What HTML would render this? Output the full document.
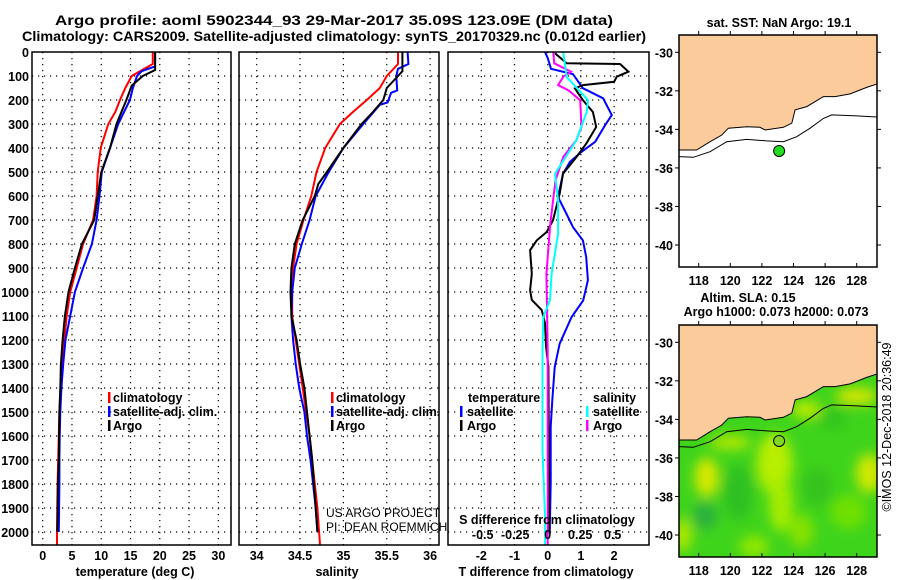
<!DOCTYPE html>
<html><head><meta charset="utf-8">
<style>
html,body{margin:0;padding:0;background:#fff;}
svg{display:block;font-family:"Liberation Sans",Arial,sans-serif;}
.b{font-weight:bold;}
</style></head>
<body>
<svg id="fig" width="900" height="580" viewBox="0 0 900 580" xmlns="http://www.w3.org/2000/svg">
<defs>
<clipPath id="c1"><rect x="32" y="52" width="199" height="493"/></clipPath>
<clipPath id="c2"><rect x="239" y="52" width="200" height="493"/></clipPath>
<clipPath id="c3"><rect x="448" y="52" width="201" height="493"/></clipPath>
<clipPath id="cm1"><rect x="679" y="35" width="198" height="232"/></clipPath>
<clipPath id="cm2"><rect x="679" y="325" width="198" height="232"/></clipPath>
<filter id="blur" x="-20%" y="-20%" width="140%" height="140%"><feGaussianBlur stdDeviation="6"/></filter>
</defs>
<text class="b" x="334" y="25" font-size="14" text-anchor="middle" textLength="558" lengthAdjust="spacingAndGlyphs">Argo profile: aoml 5902344_93 29-Mar-2017 35.09S 123.09E (DM data)</text>
<text class="b" x="334" y="41" font-size="14" text-anchor="middle" textLength="624" lengthAdjust="spacingAndGlyphs">Climatology: CARS2009. Satellite-adjusted climatology: synTS_20170329.nc (0.012d earlier)</text>
<g id="plots"></g>
<g id="maps"></g>
<text x="891" y="427" font-size="12.5" text-anchor="middle" transform="rotate(-90 891 427)">©IMOS 12-Dec-2018 20:36:49</text>
</svg>
<script>
// ---- profile data ----
const depthTicks = [0,100,200,300,400,500,600,700,800,900,1000,1100,1200,1300,1400,1500,1600,1700,1800,1900,2000];
const tempTicks = [0,5,10,15,20,25,30];
const salTicks = [34,34.5,35,35.5,36];
const tdTicks = [-2,-1,0,1,2];
const sdTicks = [-0.5,-0.25,0,0.25,0.5];
const sdTickLabels = ["-0.5","-0.25","0","0.25","0.5"];

const argoTempDepth = [0,75,100,140,200,300,400,500,600,700,800,900,1000,1100,1200,1300,1400,1500,1600,1700,1800,1900,2000];
const argoTemp = [19.2,19.2,17.1,15.2,14.3,12.6,11.5,10.0,9.4,8.8,6.7,5.5,4.4,3.8,3.4,3.1,3.0,2.85,2.8,2.75,2.6,2.55,2.5];
const climTempDepth = [0,50,80,100,150,200,250,300,400,500,600,700,800,900,1000,1100,1200,1300,1400,1500,1600,1800,2000,2054];
const climTemp = [18.8,18.8,16.6,15.2,14.1,13.2,12.4,11.2,9.9,9.4,9.2,8.6,6.9,5.8,4.7,4.1,3.7,3.3,3.05,2.85,2.75,2.55,2.45,2.45];
const satTempDepth = [0,60,80,100,150,200,300,400,500,600,700,800,900,1000,1100,1200,1300,1400,1500,1600,1700,1800,1900,2000];
const satTemp = [19.2,19.2,16.9,16.1,15.4,14.9,12.9,11.5,10.1,9.7,9.2,8.4,6.9,5.5,4.7,3.9,3.5,3.2,3.0,2.9,2.85,2.85,2.8,2.75];

const argoSalDepth = [0,80,100,150,200,250,300,400,500,550,600,700,800,900,1000,1100,1200,1300,1400,1500,1600,1700,1800,1900,2000];
const argoSal = [35.68,35.68,35.63,35.5,35.46,35.34,35.21,35.0,34.81,34.71,34.67,34.53,34.44,34.40,34.39,34.40,34.46,34.50,34.55,34.58,34.61,34.64,34.66,34.68,34.70];
const climSalDepth = [0,50,100,150,200,250,300,400,500,600,700,800,900,1000,1100,1200,1300,1400,1500,1600,1700,1800,1900,2000,2054];
const climSal = [35.63,35.63,35.5,35.42,35.27,35.11,34.96,34.79,34.69,34.63,34.54,34.46,34.42,34.41,34.41,34.45,34.49,34.53,34.57,34.61,34.64,34.67,34.70,34.72,34.73];
const satSalDepth = [0,50,70,100,160,170,210,220,300,400,500,600,700,800,900,1000,1100,1200,1300,1400,1500,1600,1700,1800,1900,2000];
const satSal = [35.74,35.75,35.63,35.61,35.62,35.55,35.51,35.42,35.23,35.0,34.83,34.68,34.61,34.52,34.44,34.41,34.40,34.42,34.45,34.49,34.55,34.58,34.62,34.65,34.68,34.70];

const argoTdDepth = [5,47,50,82,103,124,138,152,201,250,312,382,437,507,590,701,750,785,826,924,993,1033,1075,1130,1226,1310,2000];
const argoTd = [0.22,0.57,2.18,2.43,2.08,2.0,1.06,0.82,1.06,1.36,1.46,1.16,0.87,0.46,0.36,0.16,-0.03,-0.33,-0.53,-0.48,-0.53,-0.48,-0.18,-0.08,-0.05,0.02,0.05];
const satTdDepth = [0,25,70,92,151,193,263,305,374,416,458,507,604,673,729,785,854,951,1035,1104,1215,1313,1451,1562,1799,2007];
const satTd = [-0.08,0.0,0.1,0.76,1.06,1.67,1.93,1.73,1.43,1.02,0.67,0.46,0.31,0.56,0.76,1.06,1.16,1.21,1.07,0.72,0.36,0.21,0.14,0.09,0.09,0.06];
const satSdDepth = [0,104,201,250,368,507,618,757,924,1033,1104,1243,1660,1938,2054];
const satSd = [0.12,0.146,0.31,0.30,0.22,0.056,0.08,0.08,0.03,0.018,-0.034,-0.04,-0.04,-0.02,-0.02];
const argoSdDepth = [0,47,82,103,138,160,201,312,368,437,535,715,924,1250,2054];
const argoSd = [0.043,0.05,0.18,0.12,0.08,0.16,0.25,0.26,0.22,0.12,0.06,0.02,-0.01,0.0,0.0];

// ---- map data (lon/lat) ----
const mapLonTicks = [118,120,122,124,126,128];
const mapLatTicks = [-30,-32,-34,-36,-38,-40];
const coastLon = [116.7,117.87,118.72,119.46,119.88,121.04,121.88,122.2,123.36,123.89,124.1,124.84,125.89,126.63,127.58,128.63,129.3,129.5];
const coastLat = [-35.07,-35.07,-34.64,-34.29,-33.94,-33.86,-33.89,-34.03,-33.89,-33.68,-32.99,-32.82,-32.3,-32.3,-32.16,-31.82,-31.64,-31.64];
const isoLon = [116.7,117.66,118.72,119.77,121.04,122.3,123.36,124.2,125.05,125.89,126.42,128.0,129.5];
const isoLat = [-35.41,-35.45,-35.16,-34.64,-34.52,-34.6,-34.64,-34.38,-33.94,-33.43,-33.25,-33.3,-33.37];
const floatLon = 123.09, floatLat = -35.12;

const NS = "http://www.w3.org/2000/svg";
function el(tag, attrs, parent){const e=document.createElementNS(NS,tag);for(const k in attrs)e.setAttribute(k,attrs[k]);parent.appendChild(e);return e;}
const plots = document.getElementById('plots');

const yTop=52, yBot=545, pxPerM=0.24;
const yD = d => yTop + d*pxPerM;
const xT = t => 42.7 + t*5.855;
const xS = s => 256.7 + (s-34)*86.7;
const xTd = v => 547.7 + v*33.2;
const xSd = v => 547.7 + v*130;

const panels = [{x0:32,x1:231,clip:'c1',name:'temperature-panel'},{x0:239,x1:439,clip:'c2',name:'salinity-panel'},{x0:448,x1:649,clip:'c3',name:'difference-panel'}];

function grid(g,p,xs){
  for(const d of depthTicks){ if(d===0) continue;
    const l=el('line',{x1:p.x0,x2:p.x1,y1:yD(d),y2:yD(d),stroke:'#000','stroke-width':1.2,'stroke-dasharray':'1.2 4.8'},g);
    
    
  }
  for(const x of xs){
    const l=el('line',{x1:x,x2:x,y1:yTop,y2:yBot,stroke:'#000','stroke-width':1.2,'stroke-dasharray':'1.2 4.8'},g);
    
    
  }
}
function line(g,depths,vals,fx,color,name,w){
  const pts=depths.map((d,i)=>fx(vals[i]).toFixed(1)+','+yD(d).toFixed(1)).join(' ');
  const pl=el('polyline',{points:pts,fill:'none',stroke:color,'stroke-width':w||2,'stroke-linejoin':'miter'},g);
  
  
}
function txt(parent,x,y,s,size,anchor,bold,name){
  const t=el('text',{x:x,y:y,'font-size':size,'text-anchor':anchor||'start','font-weight':bold?'bold':'normal'},parent);
  t.textContent=s;
  
  
  return t;
}
function legendBar(parent,x,y,color){
  const r=el('rect',{x:x,y:y-10,width:2.5,height:11,fill:color},parent);
  
  
}

const xsList=[tempTicks.map(xT), salTicks.map(xS), tdTicks.map(xTd)];
panels.forEach((p,i)=>{
  const g=el('g',{},plots);
  
  
  const cg=el('g',{'clip-path':'url(#'+p.clip+')'},g);
  grid(cg,p,xsList[i]);
  p.g=g; p.cg=cg;
});
for(const d of depthTicks){
  txt(plots,29,yD(d)+5,String(d),12.5,'end',true,'depth-tick-label');
}
const P1=panels[0].cg;
line(P1,climTempDepth,climTemp,xT,'#ff0000','climatology-temperature-line');
line(P1,satTempDepth,satTemp,xT,'#0000ff','satellite-temperature-line');
line(P1,argoTempDepth,argoTemp,xT,'#000000','argo-temperature-line');
tempTicks.forEach(t=>txt(plots,xT(t),560,String(t),12.5,'middle',true,'temperature-tick-label'));
txt(plots,135,576,'temperature (deg C)',12.5,'middle',true,'temperature-axis-title');
const P2=panels[1].cg;
line(P2,climSalDepth,climSal,xS,'#ff0000','climatology-salinity-line');
line(P2,satSalDepth,satSal,xS,'#0000ff','satellite-salinity-line');
line(P2,argoSalDepth,argoSal,xS,'#000000','argo-salinity-line');
salTicks.forEach(s=>txt(plots,xS(s),560,String(s),12.5,'middle',true,'salinity-tick-label'));
txt(plots,337,576,'salinity',12.5,'middle',true,'salinity-axis-title');
const P3=panels[2].cg;
line(P3,satTdDepth,satTd,xTd,'#0000ff','satellite-temperature-difference-line');
line(P3,argoTdDepth,argoTd,xTd,'#000000','argo-temperature-difference-line');
line(P3,argoSdDepth,argoSd,xSd,'#ff00ff','argo-salinity-difference-line');
line(P3,satSdDepth,satSd,xSd,'#00ffff','satellite-salinity-difference-line');
tdTicks.forEach(t=>txt(plots,xTd(t),560,String(t),12.5,'middle',true,'temperature-difference-tick-label'));
txt(plots,546,576,'T difference from climatology',12.5,'middle',true,'temperature-difference-axis-title');
sdTicks.forEach((s,i)=>txt(plots,xSd(s),539,sdTickLabels[i],12.5,'middle',true,'salinity-difference-tick-label'));
txt(plots,547,524,'S difference from climatology',12.5,'middle',true,'salinity-difference-axis-title');

panels.forEach(p=>{
  const r=el('rect',{x:p.x0,y:yTop,width:p.x1-p.x0,height:yBot-yTop,fill:'none',stroke:'#000','stroke-width':1.5},p.g);
  
  
});

[[108,'temperature'],[331,'salinity']].forEach(([lx,k])=>{
  const lg=el('g',{},plots);
  
  
  legendBar(lg,lx,402,'#ff0000'); txt(lg,lx+5,402,'climatology',12.5,'start',true,'legend-label-climatology');
  legendBar(lg,lx,416,'#0000ff'); txt(lg,lx+5,416,'satellite-adj. clim.',12.5,'start',true,'legend-label-satellite');
  legendBar(lg,lx,430,'#000000'); txt(lg,lx+5,430,'Argo',12.5,'start',true,'legend-label-argo');
});
const lg3=el('g',{},plots);


txt(lg3,468,402,'temperature',12.5,'start',true,'legend-heading-temperature');
legendBar(lg3,460,416,'#0000ff'); txt(lg3,467,416,'satellite',12.5,'start',true,'legend-label-satellite-t');
legendBar(lg3,460,430,'#000000'); txt(lg3,467,430,'Argo',12.5,'start',true,'legend-label-argo-t');
txt(lg3,593,402,'salinity',12.5,'start',true,'legend-heading-salinity');
legendBar(lg3,586,416,'#00ffff'); txt(lg3,593,416,'satellite',12.5,'start',true,'legend-label-satellite-s');
legendBar(lg3,586,430,'#ff00ff'); txt(lg3,593,430,'Argo',12.5,'start',true,'legend-label-argo-s');

txt(plots,326,517,'US ARGO PROJECT',12,'start',false,'credit-project');
txt(plots,326,531,'PI: DEAN ROEMMICH',12,'start',false,'credit-pi');

// ---- maps ----
const maps=document.getElementById('maps');
const mx = lon => 698.7 + (lon-118)*15.8;
const MH = 232;
function drawMap(top,clip,name,field){
  const my = lat => top + 17.3 + (-30-lat)*19.27;
  const g=el('g',{},maps);
  
  
  const cg=el('g',{'clip-path':'url(#'+clip+')'},g);
  const bg=el('rect',{x:679,y:top,width:198,height:MH,fill:field?'#3fd41c':'#ffffff'},cg);
  
  
  if(field){
    const fg=el('g',{filter:'url(#blur)'},cg);
    
    
    const blobs=[[118.5,-37,8,14,'#d8e800'],[122.8,-36.3,12,22,'#b8ee00'],[123.2,-38.4,8,20,'#a6ec00'],[126.5,-34,10,8,'#33c61c'],[120.5,-37.8,10,20,'#2ec020'],[118.4,-39,8,10,'#2ab040'],[125.5,-37.5,10,14,'#35c31c'],[128.8,-36.8,9,14,'#d0e800'],[127.5,-38.8,12,12,'#6fe000'],[121.5,-40.6,10,8,'#90e600'],[117,-40,6,12,'#b0e800'],[124.5,-39.8,8,12,'#88e200'],[128,-32.8,14,6,'#d8e600'],[120,-35.2,14,5,'#b5e800'],[124.8,-33.5,10,6,'#c0ea00']];
    blobs.forEach(b=>{const e=el('ellipse',{cx:mx(b[0]),cy:my(b[1]),rx:b[2]*1.5,ry:b[3]*1.4,fill:b[4]},fg);
      
      });
  }
  const land=coastLon.map((l,i)=>mx(l).toFixed(1)+','+my(coastLat[i]).toFixed(1));
  land.push('880,'+(top-5),'676,'+(top-5));
  const lp=el('polygon',{points:land.join(' '),fill:'#fbcb9b',stroke:'#000','stroke-width':1},cg);
  
  
  const iso=el('polyline',{points:isoLon.map((l,i)=>mx(l).toFixed(1)+','+my(isoLat[i]).toFixed(1)).join(' '),fill:'none',stroke:'#000','stroke-width':1},cg);
  
  
  const c=el('circle',{cx:mx(floatLon),cy:my(floatLat),r:5.5,fill:field?'#7fd820':'#22dd22',stroke:'#000','stroke-width':1},g);
  
  
  const fr=el('rect',{x:679,y:top,width:198,height:MH,fill:'none',stroke:'#000','stroke-width':1.5},g);
  
  
  mapLonTicks.forEach(l=>{
    const t1=el('line',{x1:mx(l),x2:mx(l),y1:top,y2:top-4,stroke:'#000'},g);
    
    
    const t2=el('line',{x1:mx(l),x2:mx(l),y1:top+MH,y2:top+MH-4,stroke:'#000'},g);
    
    
    txt(g,mx(l),top+MH+18,String(l),12.5,'middle',true,'longitude-tick-label');
  });
  mapLatTicks.forEach(l=>{
    const t1=el('line',{x1:679,x2:675,y1:my(l),y2:my(l),stroke:'#000'},g);
    
    
    const t2=el('line',{x1:877,x2:881,y1:my(l),y2:my(l),stroke:'#000'},g);
    
    
    txt(g,673,my(l)+5,String(l),12.5,'end',true,'latitude-tick-label');
  });
}
drawMap(35,'cm1','sst-map',false);
drawMap(325,'cm2','sla-map',true);
txt(maps,779,27,'sat. SST: NaN Argo: 19.1',12.5,'middle',true,'sst-map-title');
txt(maps,748,302,'Altim. SLA: 0.15',12.5,'middle',true,'sla-map-title');
txt(maps,776,316,'Argo h1000: 0.073 h2000: 0.073',12.5,'middle',true,'sla-map-subtitle');
</script>
</body></html>
